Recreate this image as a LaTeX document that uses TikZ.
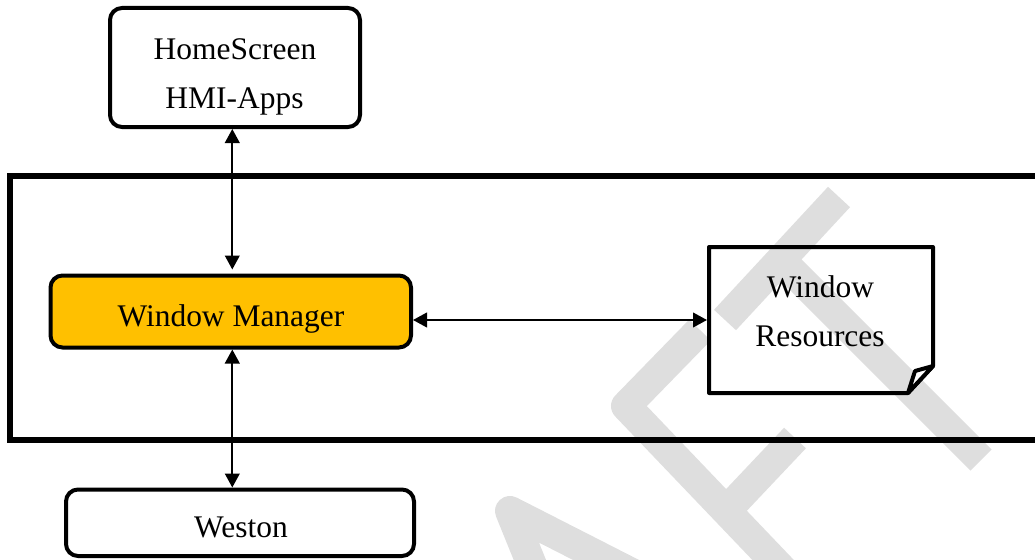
\documentclass[tikz,border=0pt]{standalone}
\usepackage{fontspec}
\setmainfont{Liberation Serif}
\usetikzlibrary{arrows.meta,fit,calc}
\definecolor{wmgray}{RGB}{222,222,222}
\definecolor{mgrfill}{RGB}{255,192,0}
\begin{document}
\begin{tikzpicture}[x=0.75pt,y=-0.75pt,
  box/.style={draw, line width=3pt, rounded corners=9pt, inner sep=0pt, outer sep=1.5pt},
  lbl/.style={font=\fontsize{23.6}{28}\selectfont, inner sep=0pt, anchor=base},
  biarrow/.style={{Triangle[length=10.5pt,width=11pt]}-{Triangle[length=10.5pt,width=11pt]}, line width=1.5pt},
  wmark/.style={draw=wmgray, line width=22.5pt, line join=round, line cap=butt},
  frameline/.style={line width=4.2pt},
  wrline/.style={line width=3pt, line join=round}]
\useasboundingbox (0,0) rectangle (1035,560);
% watermark
\draw[wmark] (725,320) -- (839,197);
\draw[wmark] (781,260) -- (981,460);
\draw[wmark] (700,330) -- (626,406) -- (797,585);
\draw[wmark] (726,511) -- (795,438);
\draw[wmark] (540,585) -- (510,511) -- (661,588);
% frame
\draw[frameline] (1035,176) -- (10,176) -- (10,440) -- (1035,440);
% boxes
\node[box, fit={(110,8) (360,127)}] (hs) {};
\node[box, fill=mgrfill, fit={(50.5,275.5) (411,347.5)}] (wmgr) {};
\node[box, fit={(66,489.5) (414,556)}] (weston) {};
\node[inner sep=0pt, outer sep=0pt, fit={(709,247) (933,393)}] (wr) {};
\draw[wrline] (wr.north west) -- (wr.north east) -- ($(wr.south east)+(0,-27)$) -- ($(wr.south east)+(-25,0)$) -- (wr.south west) -- cycle;
\draw[wrline, fill=white] ($(wr.south east)+(0,-27)$) -- ($(wr.south east)+(-18,-22)$) -- ($(wr.south east)+(-25,0)$) -- cycle;
% labels
\node[lbl] (hs1) at (235,59.3) {HomeScreen};
\node[lbl] (hs2) at (234.5,108.3) {HMI-Apps};
\node[lbl] (wm1) at (231,326.7) {Window Manager};
\node[lbl] (wr1) at (820.5,297) {Window};
\node[lbl] (wr2) at (820,346) {Resources};
\node[lbl] (we1) at (241,537.5) {Weston};
% connectors
\coordinate (ax) at (232.3,0);
\draw[biarrow, shorten >=3pt] (ax |- hs.south) -- (ax |- wmgr.north);
\draw[biarrow] (ax |- wmgr.south) -- (ax |- weston.north);
\draw[biarrow, shorten >=1.5pt] (wmgr.east |- wr.west) -- (wr.west);
\end{tikzpicture}
\end{document}
